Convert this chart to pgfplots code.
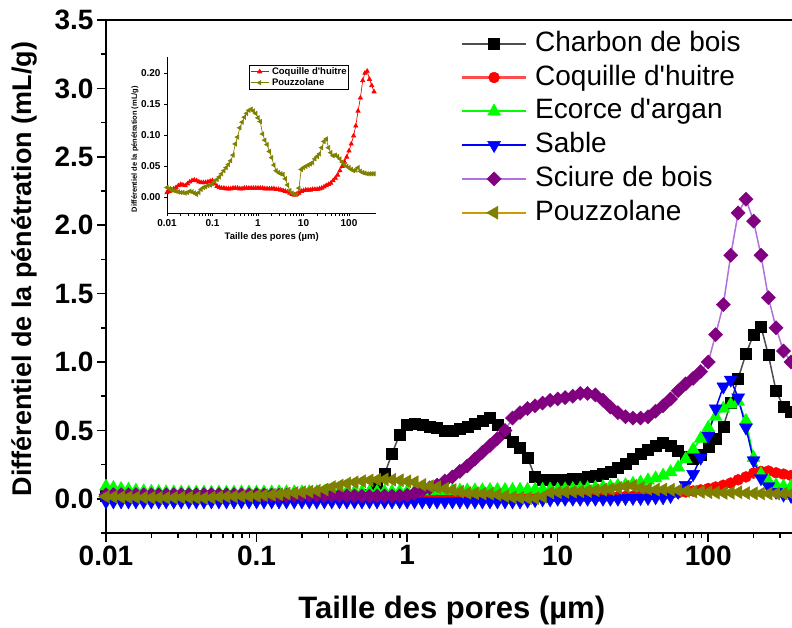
\documentclass[border=0pt]{standalone}
\usepackage{fontspec}
\setmainfont{Liberation Sans}
\usepackage{pgfplots}
\usepackage{pgfplotstable}
\pgfplotsset{compat=1.18}
\definecolor{cgray}{HTML}{4D4D4D}
\definecolor{cred}{HTML}{FF0000}
\definecolor{credl}{HTML}{FF4D4D}
\definecolor{cgreen}{HTML}{00FF00}
\definecolor{cblue}{HTML}{0000FF}
\definecolor{cpurp}{HTML}{800080}
\definecolor{cpurpl}{HTML}{B070E0}
\definecolor{colive}{HTML}{808000}
\definecolor{cgold}{HTML}{CC9900}
\pgfplotstableread{
x C Q E S W P
0.0100 0.02 0.008 0.090 -0.02 0.030 0.016
0.0112 0.02 0.010 0.080 -0.02 0.030 0.014
0.0126 0.02 0.012 0.072 -0.02 0.030 0.012
0.0141 0.02 0.014 0.066 -0.02 0.030 0.011
0.0158 0.02 0.016 0.060 -0.02 0.030 0.010
0.0178 0.02 0.019 0.055 -0.02 0.030 0.009
0.0200 0.02 0.021 0.052 -0.02 0.030 0.008
0.0224 0.02 0.020 0.050 -0.02 0.030 0.008
0.0251 0.02 0.019 0.048 -0.02 0.030 0.007
0.0282 0.02 0.022 0.047 -0.02 0.030 0.008
0.0316 0.02 0.025 0.047 -0.02 0.030 0.010
0.0355 0.02 0.027 0.046 -0.02 0.030 0.009
0.0398 0.02 0.028 0.046 -0.02 0.030 0.007
0.0447 0.02 0.027 0.046 -0.02 0.030 0.005
0.0501 0.02 0.025 0.046 -0.02 0.030 0.008
0.0562 0.02 0.024 0.046 -0.02 0.030 0.013
0.0631 0.02 0.024 0.046 -0.02 0.030 0.016
0.0708 0.02 0.024 0.046 -0.02 0.030 0.017
0.0794 0.02 0.025 0.047 -0.02 0.030 0.019
0.0891 0.02 0.026 0.047 -0.02 0.030 0.020
0.100 0.02 0.027 0.047 -0.02 0.030 0.022
0.112 0.02 0.022 0.047 -0.02 0.028 0.026
0.126 0.02 0.018 0.047 -0.02 0.027 0.029
0.141 0.02 0.016 0.048 -0.02 0.026 0.033
0.158 0.02 0.015 0.048 -0.02 0.025 0.038
0.178 0.02 0.015 0.048 -0.02 0.025 0.043
0.200 0.02 0.014 0.048 -0.02 0.025 0.048
0.224 0.02 0.014 0.049 -0.02 0.025 0.053
0.251 0.02 0.014 0.049 -0.02 0.025 0.059
0.282 0.02 0.015 0.049 -0.02 0.024 0.068
0.316 0.02 0.015 0.050 -0.02 0.024 0.086
0.355 0.02 0.015 0.050 -0.02 0.023 0.097
0.398 0.02 0.014 0.050 -0.02 0.022 0.112
0.447 0.02 0.014 0.050 -0.02 0.021 0.121
0.501 0.02 0.015 0.050 -0.02 0.020 0.129
0.562 0.03 0.015 0.051 -0.02 0.020 0.135
0.631 0.08 0.015 0.051 -0.02 0.020 0.140
0.708 0.18 0.015 0.052 -0.02 0.020 0.142
0.794 0.33 0.015 0.052 -0.02 0.020 0.139
0.891 0.47 0.015 0.053 -0.02 0.022 0.135
1.00 0.54 0.015 0.053 -0.02 0.025 0.128
1.12 0.55 0.015 0.054 -0.02 0.040 0.122
1.26 0.54 0.015 0.055 -0.02 0.060 0.102
1.41 0.53 0.014 0.056 -0.02 0.080 0.092
1.58 0.52 0.014 0.057 -0.02 0.100 0.085
1.78 0.50 0.014 0.058 -0.02 0.130 0.074
2.00 0.50 0.014 0.059 -0.02 0.160 0.064
2.24 0.51 0.014 0.060 -0.02 0.200 0.052
2.51 0.53 0.013 0.061 -0.02 0.240 0.043
2.82 0.55 0.013 0.062 -0.02 0.290 0.040
3.16 0.57 0.012 0.063 -0.02 0.340 0.038
3.55 0.59 0.011 0.064 -0.02 0.390 0.037
3.98 0.54 0.010 0.064 -0.02 0.440 0.030
4.47 0.48 0.009 0.065 -0.02 0.500 0.020
5.01 0.42 0.007 0.065 -0.02 0.590 0.011
5.62 0.37 0.005 0.066 -0.02 0.630 0.007
6.31 0.30 0.004 0.066 -0.015 0.660 0.005
7.08 0.16 0.005 0.067 -0.01 0.680 0.005
7.94 0.14 0.007 0.067 -0.005 0.700 0.015
8.91 0.14 0.010 0.068 -0.005 0.720 0.045
10.0 0.14 0.011 0.068 0.0 0.730 0.048
11.2 0.14 0.012 0.070 0.0 0.740 0.050
12.6 0.15 0.012 0.072 0.0 0.750 0.052
14.1 0.15 0.012 0.075 0.0 0.770 0.054
15.8 0.16 0.013 0.078 0.0 0.770 0.056
17.8 0.17 0.013 0.082 0.0 0.760 0.062
20.0 0.18 0.013 0.086 0.0 0.720 0.066
22.4 0.20 0.014 0.090 0.0 0.670 0.070
25.1 0.23 0.015 0.095 0.0 0.630 0.080
28.2 0.26 0.017 0.100 0.005 0.600 0.090
31.6 0.29 0.019 0.110 0.005 0.590 0.094
35.5 0.33 0.021 0.120 0.005 0.590 0.080
39.8 0.36 0.023 0.135 0.005 0.600 0.072
44.7 0.39 0.027 0.150 0.01 0.640 0.067
50.1 0.41 0.031 0.170 0.01 0.680 0.068
56.2 0.39 0.036 0.195 0.02 0.730 0.066
63.1 0.35 0.043 0.230 0.05 0.790 0.062
70.8 0.31 0.050 0.290 0.10 0.840 0.057
79.4 0.29 0.057 0.360 0.18 0.880 0.053
89.1 0.32 0.065 0.440 0.30 0.930 0.050
100 0.38 0.075 0.520 0.46 1.000 0.048
112 0.44 0.086 0.600 0.66 1.200 0.045
126 0.53 0.099 0.660 0.82 1.420 0.043
141 0.70 0.115 0.690 0.87 1.780 0.044
158 0.88 0.139 0.710 0.74 2.090 0.048
178 1.06 0.160 0.570 0.52 2.190 0.042
200 1.20 0.188 0.300 0.28 2.030 0.040
224 1.26 0.200 0.180 0.15 1.780 0.039
251 1.05 0.203 0.130 0.09 1.470 0.038
282 0.79 0.190 0.100 0.05 1.250 0.038
316 0.67 0.180 0.090 0.03 1.080 0.038
355 0.64 0.170 0.090 0.02 1.000 0.038
}\data
\begin{document}
\begin{tikzpicture}
\begin{axis}[
  at={(106pt,95pt)}, anchor=south west,
  scale only axis, width=686pt, height=513pt,
  xmode=log, xmin=0.01, xmax=360, ymin=-0.25, ymax=3.5,
  axis x line*=box, axis y line*=left,
  xtick pos=left, ytick pos=left,
  xtick={0.01,0.1,1,10,100}, xticklabels={0.01,0.1,1,10,100},
  minor xtick={0.02,0.03,0.04,0.05,0.06,0.07,0.08,0.09,0.2,0.3,0.4,0.5,0.6,0.7,0.8,0.9,2,3,4,5,6,7,8,9,20,30,40,50,60,70,80,90,200,300},
  ytick={0,0.5,1,1.5,2,2.5,3,3.5},
  minor ytick={-0.25,0.25,0.75,1.25,1.75,2.25,2.75,3.25},
  tick align=outside,
  major tick length=9pt, minor tick length=5pt,
  every tick/.style={black, line width=1.5pt},
  axis line style={line width=1.6pt},
  /pgf/number format/assume math mode=true,
  yticklabel style={/pgf/number format/.cd, fixed, fixed zerofill, precision=1},
  tick label style={font=\fontsize{28}{30}\selectfont\bfseries},
  xlabel={Taille des pores (µm)},
  ylabel={Différentiel de la pénétration (mL/g)},
  xlabel style={font=\fontsize{31}{33}\selectfont\bfseries, at={(axis description cs:0.504,-0.152)}, anchor=center},
  ylabel style={font=\fontsize{27}{29}\selectfont\bfseries, at={(axis description cs:-0.1195,0.515)}, anchor=center},
  legend cell align=left,
  legend style={at={(0.5175,0.982)}, anchor=north west, draw=none, fill=none,
    inner sep=0pt, outer sep=0pt, row sep=4.8pt,
    font=\fontsize{28}{30}\selectfont,
    nodes={inner sep=1pt, text height=21pt, text depth=6pt},
    /tikz/every odd column/.append style={column sep=7pt}},
  legend image code/.code={\draw[mark repeat=2,mark phase=2,#1,line width=2.2pt] plot coordinates {(0pt,0pt) (32pt,0pt) (64pt,0pt)};},
]
\addplot[color=cgray, line width=1.5pt, mark=square*, mark size=5.5pt, mark options={draw=black, fill=black, solid, line width=0.4pt}] table[x=x,y=C]{\data};
\addlegendentry{Charbon de bois}
\addplot[color=credl, line width=1.5pt, mark=*, mark size=5.5pt, mark options={draw=cred, fill=cred, solid, line width=0.4pt}] table[x=x,y=Q]{\data};
\addlegendentry{Coquille d\textquotesingle huitre}
\addplot[color=cgreen, line width=1.5pt, mark=triangle*, mark size=7.5pt, mark options={draw=cgreen, fill=cgreen, solid, line width=0.4pt}] table[x=x,y=E]{\data};
\addlegendentry{Ecorce d\textquotesingle argan}
\addplot[color=cblue, line width=1.5pt, mark=triangle*, mark size=7.5pt, mark options={draw=cblue, fill=cblue, solid, line width=0.4pt, rotate=180}] table[x=x,y=S]{\data};
\addlegendentry{Sable}
\addplot[color=cpurpl, line width=1.5pt, mark=square*, mark size=5pt, mark options={draw=cpurp, fill=cpurp, solid, line width=0.4pt, rotate=45}] table[x=x,y=W]{\data};
\addlegendentry{Sciure de bois}
\addplot[color=cgold, line width=1.5pt, mark=triangle*, mark size=7.5pt, mark options={draw=colive, fill=colive, solid, line width=0.4pt, rotate=90}] table[x=x,y=P]{\data};
\addlegendentry{Pouzzolane}
\end{axis}
\begin{axis}[
  at={(167pt,415pt)}, anchor=south west,
  scale only axis, width=209.4pt, height=155.5pt,
  xmode=log, xmin=0.01, xmax=400, ymin=-0.025, ymax=0.225,
  axis lines*=left,
  xtick={0.01,0.1,1,10,100}, xticklabels={0.01,0.1,1,10,100},
  ytick={0,0.05,0.1,0.15,0.2},
  tick align=outside,
  major tick length=3pt,
  every tick/.style={black, line width=0.6pt},
  axis line style={line width=0.7pt},
  /pgf/number format/assume math mode=true,
  yticklabel style={/pgf/number format/.cd, fixed, fixed zerofill, precision=2},
  tick label style={font=\fontsize{10}{11}\selectfont\bfseries},
  xlabel={Taille des pores (µm)},
  ylabel={Différentiel de la pénétration (mL/g)},
  xlabel style={font=\fontsize{9.5}{10}\selectfont\bfseries, at={(axis description cs:0.50,-0.154)}, anchor=center},
  ylabel style={font=\fontsize{7.5}{8}\selectfont\bfseries, at={(axis description cs:-0.153,0.41)}, anchor=center},
  legend cell align=left,
  legend style={at={(0.392,0.952)}, anchor=north west, draw=black, line width=0.5pt, fill=white,
    inner sep=1pt, row sep=0pt,
    font=\fontsize{9.5}{10}\selectfont\bfseries,
    nodes={inner sep=1pt, text height=7pt, text depth=2pt},
    /tikz/every odd column/.append style={column sep=2pt}},
  legend image code/.code={\draw[mark repeat=2,mark phase=2,#1] plot coordinates {(0pt,0pt) (9pt,0pt) (18pt,0pt)};},
]
\addplot[color=cred, line width=0.7pt, mark=triangle*, mark size=2.4pt, mark options={solid, fill=cred}] table[x=x,y=Q]{\data};
\addlegendentry{Coquille d\textquotesingle huitre}
\addplot[color=colive, line width=0.7pt, mark=triangle*, mark size=2.4pt, mark options={solid, fill=colive, rotate=90}] table[x=x,y=P]{\data};
\addlegendentry{Pouzzolane}
\end{axis}
\pgfresetboundingbox
\path[use as bounding box] (0pt,0pt) rectangle (792pt,628pt);
\end{tikzpicture}
\end{document}
